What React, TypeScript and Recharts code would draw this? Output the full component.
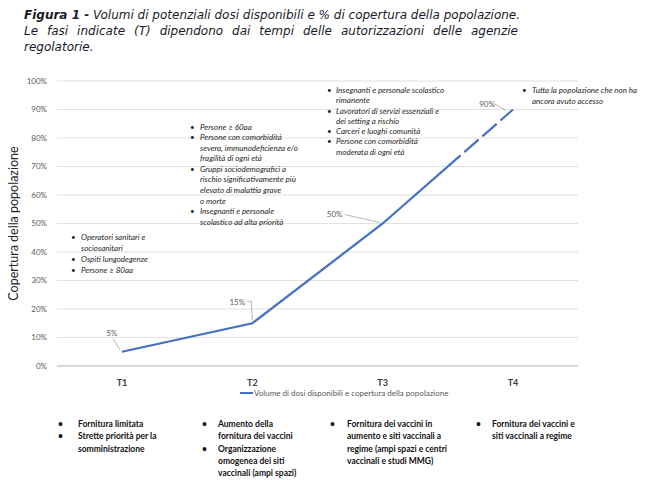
import React from 'react';
import { LineChart, Line, XAxis, YAxis, CartesianGrid, Legend } from 'recharts';

const categories = ['T1', 'T2', 'T3', 'T4'];
const coverage = [0.05, 0.15, 0.5, 0.9];
const valueLabels = ['5%', '15%', '50%', '90%'];
const yTicks = [0, 0.1, 0.2, 0.3, 0.4, 0.5, 0.6, 0.7, 0.8, 0.9, 1.0];
const seriesName = 'Volume di dosi disponibili e copertura della popolazione';
const yAxisTitle = 'Copertura della popolazione';

const titleLine1Bold = 'Figura 1 -';
const titleLine1 = ' Volumi di potenziali dosi disponibili e % di copertura della popolazione.';
const titleLine2 = 'Le fasi indicate (T) dipendono dai tempi delle autorizzazioni delle agenzie';
const titleLine3 = 'regolatorie.';

const targetsT1 = [['Operatori sanitari e', 'sociosanitari'], ['Ospiti lungodegenze'], ['Persone ≥ 80aa']];
const targetsT2 = [
  ['Persone ≥ 60aa'],
  ['Persone con comorbidità', 'severa, immunodeficienza e/o', 'fragilità di ogni età'],
  ['Gruppi sociodemografici a', 'rischio significativamente più', 'elevato di malattia grave', 'o morte'],
  ['Insegnanti e personale', 'scolastico ad alta priorità'],
];
const targetsT3 = [
  ['Insegnanti e personale scolastico', 'rimanente'],
  ['Lavoratori di servizi essenziali e', 'dei setting a rischio'],
  ['Carceri e luoghi comunità'],
  ['Persone con comorbidità', 'moderata di ogni età'],
];
const targetsT4 = [['Tutta la popolazione che non ha', 'ancora avuto accesso']];

const supplyT1 = [['Fornitura limitata'], ['Strette priorità per la', 'somministrazione']];
const supplyT2 = [['Aumento della', 'fornitura dei vaccini'], ['Organizzazione', 'omogenea dei siti', 'vaccinali (ampi spazi)']];
const supplyT3 = [['Fornitura dei vaccini in', 'aumento e siti vaccinali a', 'regime (ampi spazi e centri', 'vaccinali e studi MMG)']];
const supplyT4 = [['Fornitura dei vaccini e', 'siti vaccinali a regime']];

const data = categories.map((c, i) => ({ name: c, value: coverage[i], label: valueLabels[i] }));

const LINE_COLOR = '#4472C4';
const FONT = 'Lato, "Open Sans", sans-serif';

// label placement (style only): text offset and leader path relative to the point
const labelPlacement = [
  { tx: -10, ty: -19, leader: [[-9, -13], [-2, -2]] },
  { tx: -15, ty: -21, leader: [[-6, -22], [-1, -22], [0, -3]] },
  { tx: -48, ty: -10, leader: [[-38, -9], [-3, -1]] },
  { tx: -26, ty: -6, leader: [[-19, -6], [-7, 1]] },
];

const PointLabel = (props: any) => {
  const { x, y, index } = props;
  const p = labelPlacement[index];
  if (!p || x == null || y == null) return null;
  const d = p.leader.map((pt, i) => `${i === 0 ? 'M' : 'L'}${x + pt[0]},${y + pt[1]}`).join(' ');
  return (
    <g>
      <path d={d} stroke="#a6a6a6" strokeWidth={0.8} fill="none" />
      <text x={x + p.tx} y={y + p.ty} textAnchor="middle" dominantBaseline="central" fontSize={8} fill="#595959">
        {valueLabels[index]}
      </text>
    </g>
  );
};

type BlockProps = {
  items: string[][];
  left: number;
  top: number;
  gap: number;
  lineHeight: number;
  fontSize: number;
  italic?: boolean;
  bold?: boolean;
  color: string;
};

const BulletBlock = ({ items, left, top, gap, lineHeight, fontSize, italic, bold, color }: BlockProps) => (
  <div
    style={{
      position: 'absolute',
      left,
      top,
      fontFamily: FONT,
      fontSize,
      fontStyle: italic ? 'italic' : 'normal',
      fontWeight: bold ? 700 : 400,
      color,
      lineHeight: `${lineHeight}px`,
      whiteSpace: 'nowrap',
    }}
  >
    {items.map((lines, i) =>
      lines.map((ln, j) => (
        <div key={`${i}-${j}`} style={{ position: 'relative', height: lineHeight, paddingLeft: gap }}>
          {j === 0 && <span style={{ position: 'absolute', left: 0, top: 0, fontStyle: 'normal' }}>•</span>}
          {ln}
        </div>
      ))
    )}
  </div>
);

const LegendContent = () => (
  <div style={{ display: 'flex', alignItems: 'center', fontFamily: FONT, fontSize: 8, color: '#595959', height: 14 }}>
    <span style={{ display: 'inline-block', width: 13, height: 2.5, background: LINE_COLOR, marginRight: 1 }} />
    <span>{seriesName}</span>
  </div>
);

const YTitle = (props: any) => {
  const vb = props.viewBox || { x: 0, y: 81, width: 57, height: 283 };
  const cy = vb.y + vb.height / 2;
  const cx = 13;
  return (
    <text
      x={cx}
      y={cy}
      transform={`rotate(-90, ${cx}, ${cy})`}
      textAnchor="middle"
      dominantBaseline="central"
      fontSize={12.5}
      fill="#262626"
    >
      {yAxisTitle}
    </text>
  );
};

export default function App() {
  return (
    <div style={{ position: 'absolute', left: 0, top: 0, width: 650, height: 480, background: '#fff', fontFamily: FONT }}>
      <div
        style={{
          position: 'absolute',
          left: 24,
          top: 7,
          width: 494,
          fontFamily: '"DejaVu Sans", sans-serif',
          fontSize: 12,
          lineHeight: '16px',
          fontStyle: 'italic',
          color: '#1a1a2a',
        }}
      >
        <div style={{ whiteSpace: 'nowrap' }}>
          <b>{titleLine1Bold}</b>
          {titleLine1}
        </div>
        <div style={{ textAlign: 'justify', textAlignLast: 'justify', whiteSpace: 'normal' }}>{titleLine2}</div>
        <div>{titleLine3}</div>
      </div>

      <div style={{ position: 'absolute', left: 0, top: 0 }}>
        <LineChart width={650} height={480} data={data} margin={{ top: 81, right: 72, bottom: 76, left: 0 }}>
          <CartesianGrid vertical={false} stroke="#d9d9d9" strokeWidth={0.8} />
          <XAxis
            dataKey="name"
            axisLine={{ stroke: '#bfbfbf', strokeWidth: 1 }}
            tickLine={false}
            tickMargin={8}
            height={24}
            padding={{ left: 65, right: 65 }}
            tick={{ fontSize: 9, fontWeight: 700, fill: '#404040' }}
          />
          <YAxis
            domain={[0, 1]}
            ticks={yTicks}
            width={57}
            axisLine={false}
            tickLine={false}
            tickMargin={4}
            interval={0}
            tickFormatter={(v: number) => `${Math.round(v * 100)}%`}
            tick={{ fontSize: 8, fill: '#595959' }}
            label={{ content: (p: any) => <YTitle {...p} /> }}
          />
          <Legend
            verticalAlign="bottom"
            content={<LegendContent />}
            wrapperStyle={{ position: 'absolute', left: 240, top: 386, width: 'auto' }}
          />
          <Line
            type="linear"
            dataKey="value"
            name={seriesName}
            stroke={LINE_COLOR}
            strokeWidth={2.25}
            strokeDasharray="401 5 19 5 19 5 20"
            dot={false}
            activeDot={false}
            isAnimationActive={false}
            label={(p: any) => <PointLabel {...p} />}
          />
        </LineChart>
      </div>

      <BulletBlock items={targetsT1} left={71} top={231.5} gap={10} lineHeight={11} fontSize={8} italic color="#262626" />
      <BulletBlock items={targetsT2} left={190} top={121.7} gap={10} lineHeight={10.55} fontSize={8} italic color="#262626" />
      <BulletBlock items={targetsT3} left={327} top={85} gap={9} lineHeight={10.3} fontSize={8} italic color="#262626" />
      <BulletBlock items={targetsT4} left={522} top={84.5} gap={10} lineHeight={11} fontSize={8} italic color="#262626" />

      <BulletBlock items={supplyT1} left={58} top={418} gap={20} lineHeight={12.3} fontSize={8.5} bold color="#111" />
      <BulletBlock items={supplyT2} left={202} top={418} gap={16} lineHeight={12.3} fontSize={8.5} bold color="#111" />
      <BulletBlock items={supplyT3} left={330} top={418} gap={17} lineHeight={12.3} fontSize={8.5} bold color="#111" />
      <BulletBlock items={supplyT4} left={476} top={418} gap={16} lineHeight={12.3} fontSize={8.5} bold color="#111" />
    </div>
  );
}
